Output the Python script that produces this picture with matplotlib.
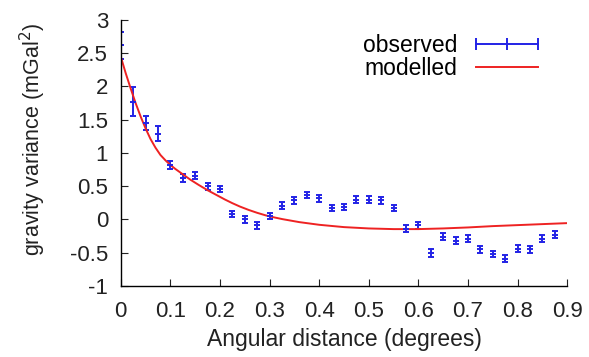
import matplotlib
matplotlib.use("Agg")
import matplotlib.pyplot as plt
from matplotlib.lines import Line2D
from matplotlib.ticker import FormatStrFormatter

plt.rcParams['font.family'] = ['Liberation Sans', 'DejaVu Sans']

# observed gravity variance with error bars
dist = [0.0, 0.025, 0.05, 0.075, 0.1, 0.125, 0.15, 0.175, 0.2, 0.225,
        0.25, 0.275, 0.3, 0.325, 0.35, 0.375, 0.4, 0.425, 0.45, 0.475,
        0.5, 0.525, 0.55, 0.575, 0.6, 0.625, 0.65, 0.675, 0.7, 0.725,
        0.75, 0.775, 0.8, 0.825, 0.85, 0.875]
observed = [2.62, 1.77, 1.45, 1.29, 0.82, 0.63, 0.66, 0.50, 0.46, 0.08,
            0.0, -0.09, 0.05, 0.21, 0.29, 0.37, 0.32, 0.17, 0.19, 0.30,
            0.30, 0.29, 0.17, -0.14, -0.09, -0.51, -0.26, -0.32, -0.29, -0.45,
            -0.52, -0.59, -0.44, -0.45, -0.29, -0.23]
obs_err = [0.2, 0.22, 0.11, 0.11, 0.06, 0.06, 0.05, 0.05, 0.05, 0.05,
           0.05, 0.05, 0.05, 0.05, 0.05, 0.05, 0.05, 0.05, 0.05, 0.05,
           0.05, 0.05, 0.05, 0.05, 0.05, 0.06, 0.05, 0.05, 0.05, 0.05,
           0.05, 0.05, 0.05, 0.05, 0.05, 0.05]

# modelled curve
model_x = [0.0, 0.01, 0.02, 0.03, 0.04, 0.05, 0.06, 0.07, 0.08, 0.09,
           0.1, 0.11, 0.125, 0.14, 0.157, 0.175, 0.19, 0.21, 0.225, 0.24,
           0.258, 0.275, 0.292, 0.31, 0.326, 0.36, 0.4, 0.45, 0.5, 0.55,
           0.6, 0.65, 0.7, 0.75, 0.8, 0.85, 0.9]
model_y = [2.45, 2.20, 1.97, 1.75, 1.55, 1.37, 1.21, 1.08, 0.97, 0.89,
           0.82, 0.76, 0.68, 0.60, 0.52, 0.44, 0.38, 0.30, 0.245, 0.195,
           0.143, 0.10, 0.062, 0.03, 0.005, -0.04, -0.08, -0.115, -0.135, -0.145,
           -0.145, -0.135, -0.12, -0.10, -0.085, -0.07, -0.055]

blue = '#2323e6'
red = '#ee2222'
fs = 16.5

fig = plt.figure(figsize=(5.89, 3.57), dpi=100)
ax = fig.add_axes([0.205, 0.199, 0.758, 0.745])

ax.errorbar(dist, observed, yerr=obs_err, fmt='_', color=blue, ms=5,
            capsize=2.5, elinewidth=1.4, capthick=1.4, mew=1.4)
ax.plot(model_x, model_y, color=red, lw=1.4)

ax.set_xlim(0, 0.9)
ax.set_ylim(-1, 3)
ax.set_xticks([0, 0.1, 0.2, 0.3, 0.4, 0.5, 0.6, 0.7, 0.8, 0.9])
ax.set_yticks([-1, -0.5, 0, 0.5, 1, 1.5, 2, 2.5, 3])
ax.xaxis.set_major_formatter(FormatStrFormatter('%g'))
ax.yaxis.set_major_formatter(FormatStrFormatter('%g'))
ax.spines['top'].set_visible(False)
ax.spines['right'].set_visible(False)
for s in ('left', 'bottom'):
    ax.spines[s].set_linewidth(1.0)
ax.tick_params(direction='in', length=5, width=0.8, labelsize=16,
               colors='#222222')
ax.tick_params(axis='x', pad=11)
ax.tick_params(axis='y', pad=9)

ax.set_xlabel('Angular distance (degrees)', fontsize=fs, color='#222222', labelpad=4)
ax.set_ylabel('gravity variance (mGal$^2$)', fontsize=15.5, color='#222222')
ax.yaxis.set_label_coords(-0.163, 0.55)

handles = [Line2D([0], [0], color=blue, lw=1.4, marker='|', ms=9, mew=1.4),
           Line2D([0], [0], color=red, lw=1.4)]
ax.legend(handles, ['observed', 'modelled'], loc='upper right',
          bbox_to_anchor=(0.95, 0.948), frameon=False, markerfirst=False,
          numpoints=3, handlelength=3.3, fontsize=fs, labelspacing=0.02,
          handletextpad=0.5, borderpad=0, borderaxespad=0)

fig.savefig('out.png', dpi=100)
